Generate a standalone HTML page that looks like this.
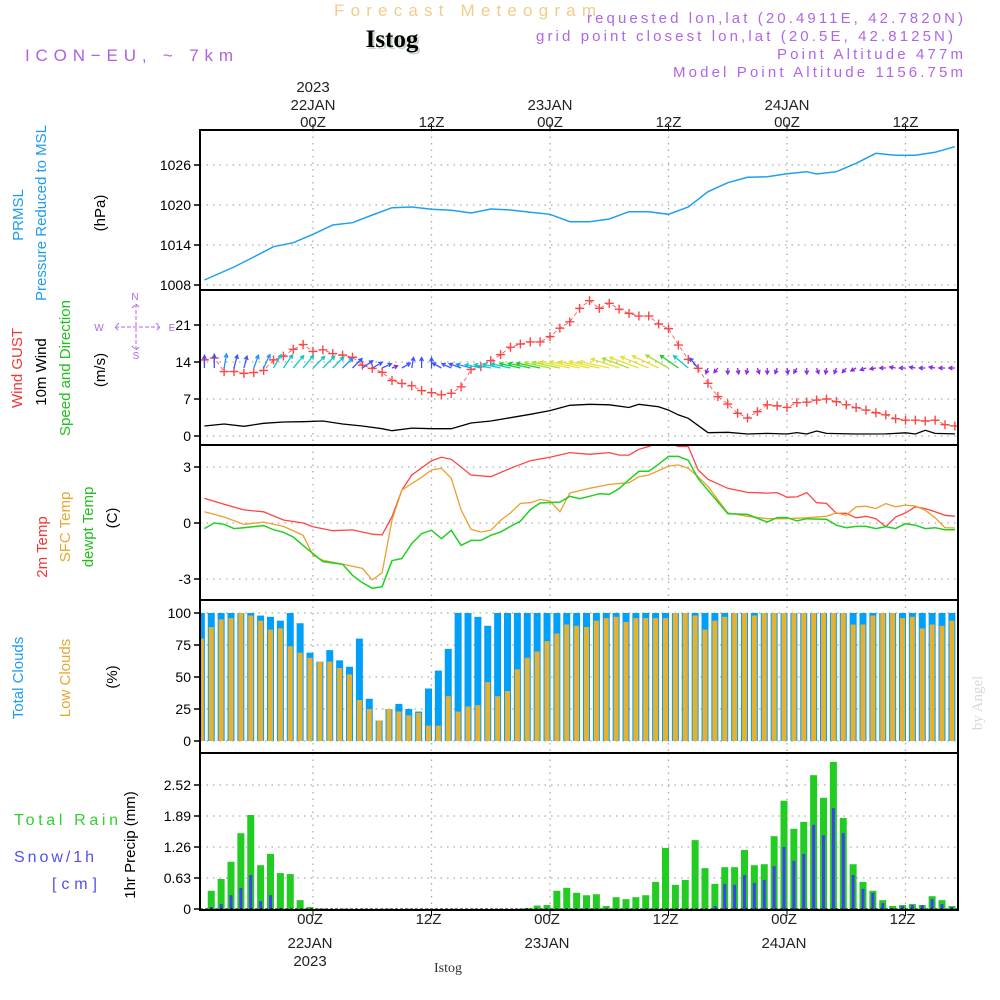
<!DOCTYPE html>
<html><head><meta charset="utf-8"><title>Forecast Meteogram Istog</title>
<style>
html,body{margin:0;padding:0;background:#fff;}
svg{display:block;}
text{font-family:"Liberation Sans",sans-serif;}
</style></head>
<body>
<svg id="chart" xmlns="http://www.w3.org/2000/svg" width="1000" height="1000" viewBox="0 0 1000 1000">
<rect width="1000" height="1000" fill="#fff"/>
<!-- header -->
<text x="465" y="16" text-anchor="middle" font-size="17" fill="#f2cc8a" textLength="262" lengthAdjust="spacing">Forecast Meteogram</text>
<text x="394" y="49" text-anchor="middle" style="font-family:'Liberation Serif',serif;font-weight:bold;font-size:25px" fill="#c8d8c8">Istog</text>
<text x="392" y="47" text-anchor="middle" style="font-family:'Liberation Serif',serif;font-weight:bold;font-size:25px" fill="#000">Istog</text>
<text x="25" y="61" font-size="17" fill="#b060e0" textLength="208" lengthAdjust="spacing">ICON−EU, ~ 7km</text>
<g fill="#b066e6" font-size="15" text-anchor="end">
<text x="963" y="23" textLength="376" lengthAdjust="spacing">requested lon,lat (20.4911E, 42.7820N)</text>
<text x="953" y="41" textLength="417" lengthAdjust="spacing">grid point closest lon,lat (20.5E, 42.8125N)</text>
<text x="963" y="59" textLength="186" lengthAdjust="spacing">Point Altitude 477m</text>
<text x="963" y="77" textLength="290" lengthAdjust="spacing">Model Point Altitude 1156.75m</text>
</g>
<text transform="translate(982,703) rotate(-90)" text-anchor="middle" style="font-family:'Liberation Serif',serif;font-size:15px" fill="#d8d8d8">by Angel</text>

<!-- left rotated labels -->
<g font-size="15" text-anchor="middle">
<text transform="translate(23,215) rotate(-90)" fill="#1e9cf0">PRMSL</text>
<text transform="translate(46,213) rotate(-90)" fill="#1e9cf0">Pressure Reduced to MSL</text>
<text transform="translate(105,213) rotate(-90)" fill="#000">(hPa)</text>
<text transform="translate(22,368) rotate(-90)" fill="#f03838">Wind GUST</text>
<text transform="translate(46,372) rotate(-90)" fill="#000">10m Wind</text>
<text transform="translate(70,368) rotate(-90)" fill="#20c020">Speed and Direction</text>
<text transform="translate(105,370) rotate(-90)" fill="#000">(m/s)</text>
<text transform="translate(47,547) rotate(-90)" fill="#f03838">2m Temp</text>
<text transform="translate(70,527) rotate(-90)" fill="#e8a830">SFC Temp</text>
<text transform="translate(93,527) rotate(-90)" fill="#20c020">dewpt Temp</text>
<text transform="translate(117,518) rotate(-90)" fill="#000">(C)</text>
<text transform="translate(23,678) rotate(-90)" fill="#1e9cf0">Total Clouds</text>
<text transform="translate(70,678) rotate(-90)" fill="#e8a830">Low Clouds</text>
<text transform="translate(117,677) rotate(-90)" fill="#000">(%)</text>
<text transform="translate(135,845) rotate(-90)" fill="#000">1hr Precip (mm)</text>
</g>
<g font-size="16">
<text x="14" y="825" fill="#30d030" textLength="104" lengthAdjust="spacing">Total   Rain</text>
<text x="14" y="862" fill="#5050f0" textLength="80" lengthAdjust="spacing">Snow/1h</text>
<text x="52" y="889" fill="#5050f0" textLength="45" lengthAdjust="spacing">[cm]</text>
</g>
<!-- compass -->
<g fill="#b066e6" font-size="10" text-anchor="middle">
<text x="135" y="300">N</text><text x="99" y="331">W</text><text x="172" y="331">E</text><text x="136" y="359">S</text>
<path d="M115 327 H160 M136 304 V350 M119 323 L115 327 L119 331 M156 323 L160 327 L156 331 M132 308 L136 304 L140 308 M132 346 L136 350 L140 346" stroke="#b066e6" stroke-width="1" fill="none" stroke-dasharray="4 2"/>
</g>
<g id="plot"></g>
<text x="448" y="972" text-anchor="middle" style="font-family:'Liberation Serif',serif;font-size:14px" fill="#333">Istog</text>
</svg>
<script>
// ---------- data ----------
const pressT=[-11,-8,-6,-4,-2,0,2,4,6,8,10,12,14,16,18,20,22,24,26,28,30,32,34,36,38,40,42,44,46,48,50,51,53,55,57,59,61,63,65];
const pressV=[1008.75,1010.7,1012.2,1013.75,1014.35,1015.6,1017,1017.35,1018.5,1019.6,1019.7,1019.35,1019.2,1018.8,1019.4,1019.25,1018.9,1018.6,1017.5,1017.5,1017.9,1019,1019,1018.6,1019.7,1022,1023.35,1024.15,1024.25,1024.7,1025,1024.65,1025,1026.25,1027.75,1027.45,1027.45,1027.9,1028.75];
const windT=[-11,-9,-7,-5,-3,-1,1,3,5,7,8,10,12,14,16,18,20,22,24,26,28,30,32,33,35,36,37,38,40,42,44,46,48,49,50,51,52,55,58,60,61,62,63,65];
const windV=[1.9,2.27,1.83,2.4,2.65,2.7,2.84,2.27,1.9,1.39,1.0,1.5,1.39,1.39,2.46,2.84,3.47,4.1,4.8,5.8,6.0,5.9,5.4,6.0,5.55,4.9,4.0,3.35,0.63,0.7,0.38,0.5,0.38,0.65,0.38,0.95,0.5,0.38,0.4,0.6,0.38,1.07,0.5,0.4];
const hours=[];for(let h=-11;h<=65;h++)hours.push(h);
const gustV=[14.4,14.75,12.2,12.2,11.85,12.0,12.4,14.4,15.1,16.4,17.3,16.0,16.3,15.6,15.3,14.9,13.4,12.8,12.05,10.5,9.95,9.5,8.6,8.2,7.8,8.07,9.3,12.6,13.1,14.25,15.4,16.8,17.4,17.8,17.8,18.8,20.4,21.6,24.15,25.6,24.15,25.1,24.0,23.2,22.7,22.7,21.2,20.3,17.2,14.5,12.8,9.97,7.45,6.05,4.3,3.4,4.6,5.9,5.7,5.4,6.3,6.4,6.8,7.0,6.5,5.9,5.36,4.9,4.4,4.0,3.27,3.0,3.0,2.84,3.0,2.14,1.9];
const windDir=[0,0,10,15,15,20,25,30,35,40,40,45,45,45,45,45,55,60,65,70,60,10,0,0,-60,-65,-70,-75,-78,-78,-78,-78,-78,-78,-78,-78,-78,-78,-78,-78,-78,-78,-72,-70,-70,-68,-65,-60,-55,-50,-40,200,220,180,170,190,160,180,200,170,210,180,160,190,200,220,240,250,260,270,280,270,280,270,280,270,270];
const t2T=[-11,-9,-7,-5,-3,-1,0,2,4,6,7,8,9,10,12,13,14,16,18,20,22,24,26,28,30,31,32,33,34,35,36,37,38,39,40,42,44,46,47,48,49,50,51,52,53,54,55,56,57,58,59,60,61,62,63,64,65];
const t2V=[1.32,1.0,0.7,0.6,0.16,0,-0.2,-0.41,-0.37,-0.6,-0.64,0.34,1.77,2.57,3.34,3.52,3.41,2.57,2.48,2.93,3.34,3.52,3.77,3.68,3.77,3.64,3.64,3.95,4.1,4.3,4.3,4.1,4.1,2.84,2.34,1.86,1.64,1.6,1.63,1.38,1.4,1.63,1.09,1.05,0.52,0.52,0.28,0.36,0.23,-0.2,0.32,0.54,0.87,0.77,0.6,0.41,0.36];
const sfcT=[-11,-9,-7,-5,-3,-1,0,1,3,5,6,7,8,9,11,12,13,14,15,16,17,18,19,20,21,22,23,24,25,26,28,30,32,33,34,36,37,38,39,40,42,44,46,48,50,52,53,54,55,56,57,58,59,60,61,62,63,64,65];
const sfcV=[0.6,0.32,-0.07,0.05,-0.18,-0.66,-1.73,-2.0,-2.2,-2.43,-3.05,-2.66,0.16,1.77,2.45,2.84,2.93,2.39,0.7,-0.34,-0.48,-0.39,0.14,0.54,1.05,1.09,1.26,1.18,0.6,1.6,1.86,2.07,2.16,2.48,2.57,3.05,3.11,2.93,2.48,1.95,0.54,0.36,0.23,0.23,0.28,0.36,0.54,0.41,0.87,0.9,0.77,1.04,0.87,0.96,0.91,0.68,0.28,-0.25,-0.27];
const dewT=[-11,-10,-9,-8,-7,-5,-4,-3,-2,-1,0,1,3,4,5,6,7,8,9,10,11,12,13,14,15,16,17,18,19,20,21,22,23,24,25,26,27,28,29,30,31,32,33,34,35,36,37,38,39,40,42,44,46,47,48,49,50,51,52,53,54,55,56,57,58,59,60,61,62,63,64,65];
const dewV=[-0.3,0,-0.07,-0.3,-0.25,-0.14,-0.36,-0.5,-0.75,-1.2,-1.64,-2.07,-2.21,-2.8,-3.2,-3.5,-3.41,-2.02,-1.9,-1.1,-0.57,-0.39,-0.84,-0.39,-1.2,-0.93,-0.93,-0.66,-0.48,-0.18,0.1,0.71,1.07,1.1,1.12,1.43,1.3,1.43,1.57,1.53,1.84,2.32,2.77,2.77,3.15,3.57,3.57,3.36,2.38,1.75,0.5,0.46,0.05,0.29,0.29,0.11,0.23,0.21,0.2,-0.12,-0.25,-0.18,-0.18,-0.3,-0.2,-0.3,-0.04,-0.12,-0.3,-0.25,-0.36,-0.36];
const totalCloud=[100,100,100,100,100,100,98,97,94,100,92,69,62,71,63,58,80,33,16,25,29,25,23,41,55,72,100,100,97,90,100,100,100,100,100,100,100,100,100,100,100,100,100,100,100,100,100,100,100,100,100,100,100,100,100,100,100,100,100,100,100,100,100,100,100,100,100,100,100,100,100,100,100,100,100,100,100];
const lowCloud=[80,89,95,96,100,98,94,87,88,74,69,65,62,62,57,52,32,25,16,25,23,20,22,12,12,35,23,27,28,46,35,39,56,65,70,78,84,91,90,89,94,96,97,93,96,96,96,96,100,100,98,87,94,97,100,100,98,100,100,100,100,100,100,100,100,100,91,91,98,100,100,96,97,88,91,90,94];
const rain=[0,0.37,0.61,0.96,1.54,1.91,0.89,1.12,0.73,0.71,0.18,0.04,0.01,0,0,0,0,0,0,0,0,0,0,0,0,0,0,0,0,0,0,0,0,0.02,0.07,0.08,0.37,0.43,0.33,0.28,0.3,0.06,0.24,0.2,0.24,0.28,0.55,1.24,0.49,0.59,1.4,0.83,0.51,0.85,0.85,1.2,0.89,0.91,1.48,2.2,1.63,1.77,2.72,2.26,2.99,1.85,0.91,0.55,0.37,0.18,0.06,0.08,0.1,0.08,0.26,0.18,0.06];
const snow=[0,0.04,0.1,0.28,0.43,0.69,0.16,0.28,0.02,0,0,0,0,0,0,0,0,0,0,0,0,0,0,0,0,0,0,0,0,0,0,0,0,0,0,0,0,0,0,0,0,0,0,0,0,0,0,0,0,0,0,0,0.06,0.51,0.49,0.69,0.53,0.59,0.87,1.26,0.98,1.12,1.71,1.5,2.05,1.54,0.69,0.41,0.33,0.12,0.02,0.06,0.08,0.08,0.2,0.1,0.04];
const pressTicks=[1008,1014,1020,1026];
const windTicks=[0,7,14,21];
const tempTicks=[-3,0,3];
const cloudTicks=[0,25,50,75,100];
const precipTicks=[0,0.63,1.26,1.89,2.52];
const timeTicks=[0,12,24,36,48,60];
const timeLabels=["00Z","12Z","00Z","12Z","00Z","12Z"];
const dayTicks=[0,24,48];
const dayLabels=["22JAN","23JAN","24JAN"];

// ---------- axes ----------
const X0=200,X1=958;
const xOf=t=>313+t*9.875;
const P=[
 {name:'pressure',top:130,bot:290,y:v=>285-(v-1008)*40/6},
 {name:'wind',top:290,bot:445,y:v=>436-v*37/7},
 {name:'temp',top:445,bot:600,y:v=>523-v*56/3},
 {name:'cloud',top:600,bot:753,y:v=>741-v*1.28},
 {name:'precip',top:753,bot:910,y:v=>909-v*31/0.63}
];
const NS='http://www.w3.org/2000/svg';
const plot=document.getElementById('plot');
function mk(tag,attrs,parent){const e=document.createElementNS(NS,tag);for(const k in attrs)e.setAttribute(k,attrs[k]);(parent||plot).appendChild(e);return e;}

const defs=mk('defs',{});
P.forEach((p,i)=>{const c=mk('clipPath',{id:'clip'+i},defs);mk('rect',{x:X0,y:p.top,width:X1-X0,height:p.bot-p.top},c);});

const tickSets=[pressTicks,windTicks,tempTicks,cloudTicks,precipTicks];
P.forEach((p,i)=>{
 const g=mk('g',{});
 
 
 timeTicks.forEach(t=>{const l=mk('line',{x1:xOf(t),x2:xOf(t),y1:p.top,y2:p.bot,stroke:'#aaa','stroke-width':1.3,'stroke-dasharray':'1.5 5'},g);
  
  });
 tickSets[i].forEach(v=>{
  const y=p.y(v);
  const l=mk('line',{x1:X0,x2:X1,y1:y,y2:y,stroke:'#aaa','stroke-width':1.3,'stroke-dasharray':'1.5 5'},g);
  
  
  mk('line',{x1:X0-6,x2:X0,y1:y,y2:y,stroke:'#000','stroke-width':1.5},g);
  const tx=mk('text',{x:X0-9,y:y+5,'text-anchor':'end','font-size':14,fill:'#000'},g);
  tx.textContent=String(v);
  
  
 });
});

// ---------- series ----------
function line(ts,vs,p,ci,color,name,w){
 const d=ts.map((t,i)=>(i?'L':'M')+xOf(t).toFixed(1)+' '+p.y(vs[i]).toFixed(1)).join(' ');
 const e=mk('path',{d:d,fill:'none',stroke:color,'stroke-width':w||1.3,'clip-path':'url(#clip'+ci+')'});
 
 
 return e;
}
line(pressT,pressV,P[0],0,'#1ea0f0','pressure-line',1.5);
line(windT,windV,P[1],1,'#000','wind-speed-line',1.3);
line(hours,gustV,P[1],1,'#f44','wind-gust-line',0.8).setAttribute('stroke-dasharray','4 3');
const gg=mk('g',{'clip-path':'url(#clip1)'});


hours.forEach((t,i)=>{const x=xOf(t),y=P[1].y(gustV[i]);
 const m=mk('path',{d:`M${x-4.5} ${y}H${x+4.5}M${x} ${y-4.5}V${y+4.5}`,stroke:'#f44','stroke-width':1.4},gg);
 
 });
function interp(ts,vs,t){for(let i=1;i<ts.length;i++){if(t<=ts[i]){const f=(t-ts[i-1])/(ts[i]-ts[i-1]);return vs[i-1]+f*(vs[i]-vs[i-1]);}}return vs[vs.length-1];}
function spdColor(s){if(s<1.2)return '#8a2be2';if(s<2.1)return '#3a55ff';if(s<2.5)return '#1e90ff';if(s<3.6)return '#10c8c8';if(s<4.6)return '#20cc30';if(s<5.5)return '#a8e030';return '#e8e030';}
const ag=mk('g',{'clip-path':'url(#clip1)'});


hours.forEach((t,i)=>{
 const s=interp(windT,windV,t);
 const L=s<1.2?6:4+s*4.5;
 const a=windDir[i]*Math.PI/180;
 const bx=xOf(t),by=368;
 const tx=bx+L*Math.sin(a),ty=by-L*Math.cos(a);
 const h=4,ang=Math.atan2(ty-by,tx-bx);
 const h1x=tx-h*Math.cos(ang-0.5),h1y=ty-h*Math.sin(ang-0.5),h2x=tx-h*Math.cos(ang+0.5),h2y=ty-h*Math.sin(ang+0.5);
 const e=mk('path',{d:`M${bx.toFixed(1)} ${by}L${tx.toFixed(1)} ${ty.toFixed(1)}M${h1x.toFixed(1)} ${h1y.toFixed(1)}L${tx.toFixed(1)} ${ty.toFixed(1)}L${h2x.toFixed(1)} ${h2y.toFixed(1)}`,stroke:spdColor(s),'stroke-width':1.3,fill:'none'},ag);
 
 
});
line(t2T,t2V,P[2],2,'#f44','temp-2m-line',1.3);
line(sfcT,sfcV,P[2],2,'#eaa030','sfc-temp-line',1.3);
line(dewT,dewV,P[2],2,'#20d020','dewpoint-line',1.5);
const cg=mk('g',{'clip-path':'url(#clip3)'});


hours.forEach((t,i)=>{const cx=xOf(t)-3;
 const b=mk('rect',{x:cx-3.5,width:7,y:P[3].y(totalCloud[i]),height:P[3].y(0)-P[3].y(totalCloud[i]),fill:'#00a0f8'},cg);
 
 
 const o=mk('rect',{x:cx-2.5,width:5,y:P[3].y(lowCloud[i]),height:P[3].y(0)-P[3].y(lowCloud[i]),fill:'#e8b030'},cg);
 
 });
const rg=mk('g',{'clip-path':'url(#clip4)'});


hours.forEach((t,i)=>{const cx=xOf(t)-3;
 if(rain[i]>0){const b=mk('rect',{x:cx-3.5,width:7,y:P[4].y(rain[i]),height:P[4].y(0)-P[4].y(rain[i]),fill:'#22cc22'},rg);
 
 }
 if(snow[i]>0){const s=mk('rect',{x:cx-1.5,width:3,y:P[4].y(snow[i]),height:P[4].y(0)-P[4].y(snow[i]),fill:'#4040f0'},rg);
 
 }
});
mk('line',{x1:X0,x2:X1,y1:909,y2:909,stroke:'#000','stroke-width':1,'stroke-dasharray':'3 2'});

P.forEach(p=>{const r=mk('rect',{x:X0,y:p.top,width:X1-X0,height:p.bot-p.top,fill:'none',stroke:'#000','stroke-width':2});
 
 });

timeTicks.forEach((t,i)=>{const x=xOf(t);
 mk('line',{x1:x,x2:x,y1:124,y2:130,stroke:'#000'});
 mk('line',{x1:x,x2:x,y1:910,y2:916,stroke:'#000'});
 const a=mk('text',{x:x,y:127,'text-anchor':'middle','font-size':15,fill:'#222'});a.textContent=timeLabels[i];
 
 
 const b=mk('text',{x:x-3,y:924,'text-anchor':'middle','font-size':15,fill:'#222'});b.textContent=timeLabels[i];
 
 });
dayTicks.forEach((t,i)=>{const x=xOf(t);
 const a=mk('text',{x:x,y:110,'text-anchor':'middle','font-size':15,fill:'#222'});a.textContent=dayLabels[i];
 
 
 const b=mk('text',{x:x-3,y:948,'text-anchor':'middle','font-size':15,fill:'#222'});b.textContent=dayLabels[i];
 
 });
const y1=mk('text',{x:xOf(0),y:92,'text-anchor':'middle','font-size':15,fill:'#222'});y1.textContent='2023';


const y2=mk('text',{x:xOf(0)-3,y:966,'text-anchor':'middle','font-size':15,fill:'#222'});y2.textContent='2023';


</script>
</body></html>
